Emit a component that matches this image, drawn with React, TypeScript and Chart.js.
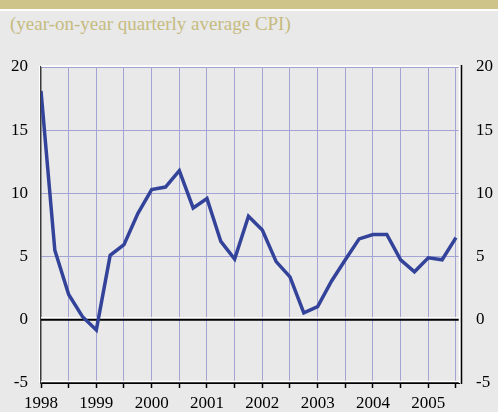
import React, { useEffect, useRef } from "react";
import { Chart, registerables } from "chart.js";

Chart.register(...registerables);

// Quarterly observations starting 1998 Q1
const startYear = 1998;
const cpiValues = [
  18.1, 5.5, 2.0, 0.25, -0.8, 5.1, 5.95, 8.4,
  10.3, 10.5, 11.8, 8.85, 9.6, 6.2, 4.8, 8.2,
  7.1, 4.6, 3.4, 0.55, 1.05, 3.05, 4.75, 6.4,
  6.75, 6.75, 4.75, 3.8, 4.9, 4.75, 6.5,
];
const yearLabels = [1998, 1999, 2000, 2001, 2002, 2003, 2004, 2005];
const yTicks = [-5, 0, 5, 10, 15, 20];
const subtitle = "(year-on-year quarterly average CPI)";

const GRID = "#a3a3d4";
const FONT = { family: "'Liberation Serif', 'Times New Roman', serif", size: 17 };

const decoPlugin = {
  id: "deco",
  beforeDatasetsDraw(chart: any) {
    const { ctx, chartArea, scales } = chart;
    const y0 = scales.y.getPixelForValue(0);
    ctx.save();
    ctx.strokeStyle = "#ffffff";
    ctx.lineWidth = 1.5;
    ctx.beginPath();
    ctx.moveTo(chartArea.left, y0 - 2);
    ctx.lineTo(chartArea.right, y0 - 2);
    ctx.stroke();
    ctx.strokeStyle = "#000000";
    ctx.lineWidth = 2;
    ctx.beginPath();
    ctx.moveTo(chartArea.left, y0);
    ctx.lineTo(chartArea.right, y0);
    ctx.stroke();
    ctx.strokeStyle = "#ffffff";
    ctx.lineWidth = 1.5;
    ctx.beginPath();
    ctx.moveTo(chartArea.left, chartArea.top - 1);
    ctx.lineTo(chartArea.right, chartArea.top - 1);
    ctx.stroke();
    ctx.beginPath();
    ctx.moveTo(chartArea.left, chartArea.bottom - 1.5);
    ctx.lineTo(chartArea.right + 2, chartArea.bottom - 1.5);
    ctx.stroke();
    ctx.strokeStyle = "#ffffff";
    ctx.beginPath();
    ctx.moveTo(chartArea.right + 0.5, chartArea.top - 1);
    ctx.lineTo(chartArea.right + 0.5, chartArea.bottom);
    ctx.stroke();
    ctx.strokeStyle = "#000000";
    ctx.lineWidth = 1.5;
    ctx.beginPath();
    ctx.moveTo(chartArea.right + 2.5, chartArea.top - 2);
    ctx.lineTo(chartArea.right + 2.5, chartArea.bottom + 1);
    ctx.stroke();
    ctx.strokeStyle = "#ffffff";
    ctx.lineWidth = 1;
    ctx.beginPath();
    ctx.moveTo(chartArea.left - 1.5, chartArea.top - 1);
    ctx.lineTo(chartArea.left - 1.5, chartArea.bottom);
    ctx.stroke();
    ctx.restore();
  },
};

export default function App() {
  const canvasRef = useRef<HTMLCanvasElement | null>(null);

  useEffect(() => {
    if (!canvasRef.current) return;
    const points = cpiValues.map((v, i) => ({ x: startYear + i * 0.25, y: v }));
    const chart = new Chart(canvasRef.current, {
      type: "line",
      data: {
        datasets: [
          {
            data: points,
            borderColor: "#34439a",
            borderWidth: 3.5,
            pointRadius: 0,
            tension: 0,
            borderJoinStyle: "miter",
            fill: false,
          },
        ],
      },
      options: {
        responsive: false,
        animation: false,
        devicePixelRatio: 1,
        layout: { padding: { top: 67, left: 0, right: 0, bottom: 0 } },
        plugins: { legend: { display: false }, tooltip: { enabled: false } },
        scales: {
          x: {
            type: "linear",
            min: startYear,
            max: 2005.555,
            afterFit: (s: any) => { s.height = 29; },
            ticks: {
              stepSize: 0.5,
              includeBounds: false,
              autoSkip: false,
              maxRotation: 0,
              padding: 5,
              color: "#000000",
              font: FONT,
              callback: (v: any) => (yearLabels.includes(Number(v)) ? String(v) : ""),
            },
            grid: {
              color: (c: any) => (c.tick && c.tick.value === startYear ? "rgba(0,0,0,0)" : GRID),
              lineWidth: 1,
              drawTicks: true,
              tickLength: 5,
              tickColor: "#000000",
              tickWidth: 1.5,
            },
            border: { display: true, color: "#000000", width: 2 },
          },
          y: {
            position: "left",
            min: -5,
            max: 20,
            afterFit: (s: any) => { s.width = 41; },
            afterBuildTicks: (s: any) => { s.ticks = yTicks.map((v) => ({ value: v })); },
            ticks: { padding: 13, color: "#000000", font: FONT, callback: (v: any) => String(v) },
            grid: {
              color: (c: any) => (c.tick && (c.tick.value === 0 || c.tick.value === -5) ? "rgba(0,0,0,0)" : GRID),
              lineWidth: 1,
              drawTicks: false,
            },
            border: { display: true, color: "#3a3a3a", width: 1.5 },
          },
          y2: {
            position: "right",
            min: -5,
            max: 20,
            afterFit: (s: any) => { s.width = 39; },
            afterBuildTicks: (s: any) => { s.ticks = yTicks.map((v) => ({ value: v })); },
            ticks: { padding: 17, color: "#000000", font: FONT, callback: (v: any) => String(v) },
            grid: { display: false, drawTicks: false },
            border: { display: false },
          },
        },
      },
      plugins: [decoPlugin],
    });
    return () => chart.destroy();
  }, []);

  return (
    <div
      style={{
        position: "absolute",
        left: 0,
        top: 0,
        width: 498,
        height: 412,
        background: "#e9e9e9",
        overflow: "hidden",
      }}
    >
      <div style={{ position: "absolute", left: 0, top: 0, width: 498, height: 9, background: "#cec48a" }} />
      <div style={{ position: "absolute", left: 0, top: 9, width: 498, height: 2, background: "#ffffff" }} />
      <div
        style={{
          position: "absolute",
          left: 10,
          top: 13,
          fontFamily: "'Liberation Serif', 'Times New Roman', serif",
          fontSize: 19,
          lineHeight: "22px",
          color: "#c6bb7f",
          whiteSpace: "nowrap",
        }}
      >
        {subtitle}
      </div>
      <canvas
        ref={canvasRef}
        width={498}
        height={412}
        style={{ position: "absolute", left: 0, top: 0, width: 498, height: 412 }}
      />
    </div>
  );
}
